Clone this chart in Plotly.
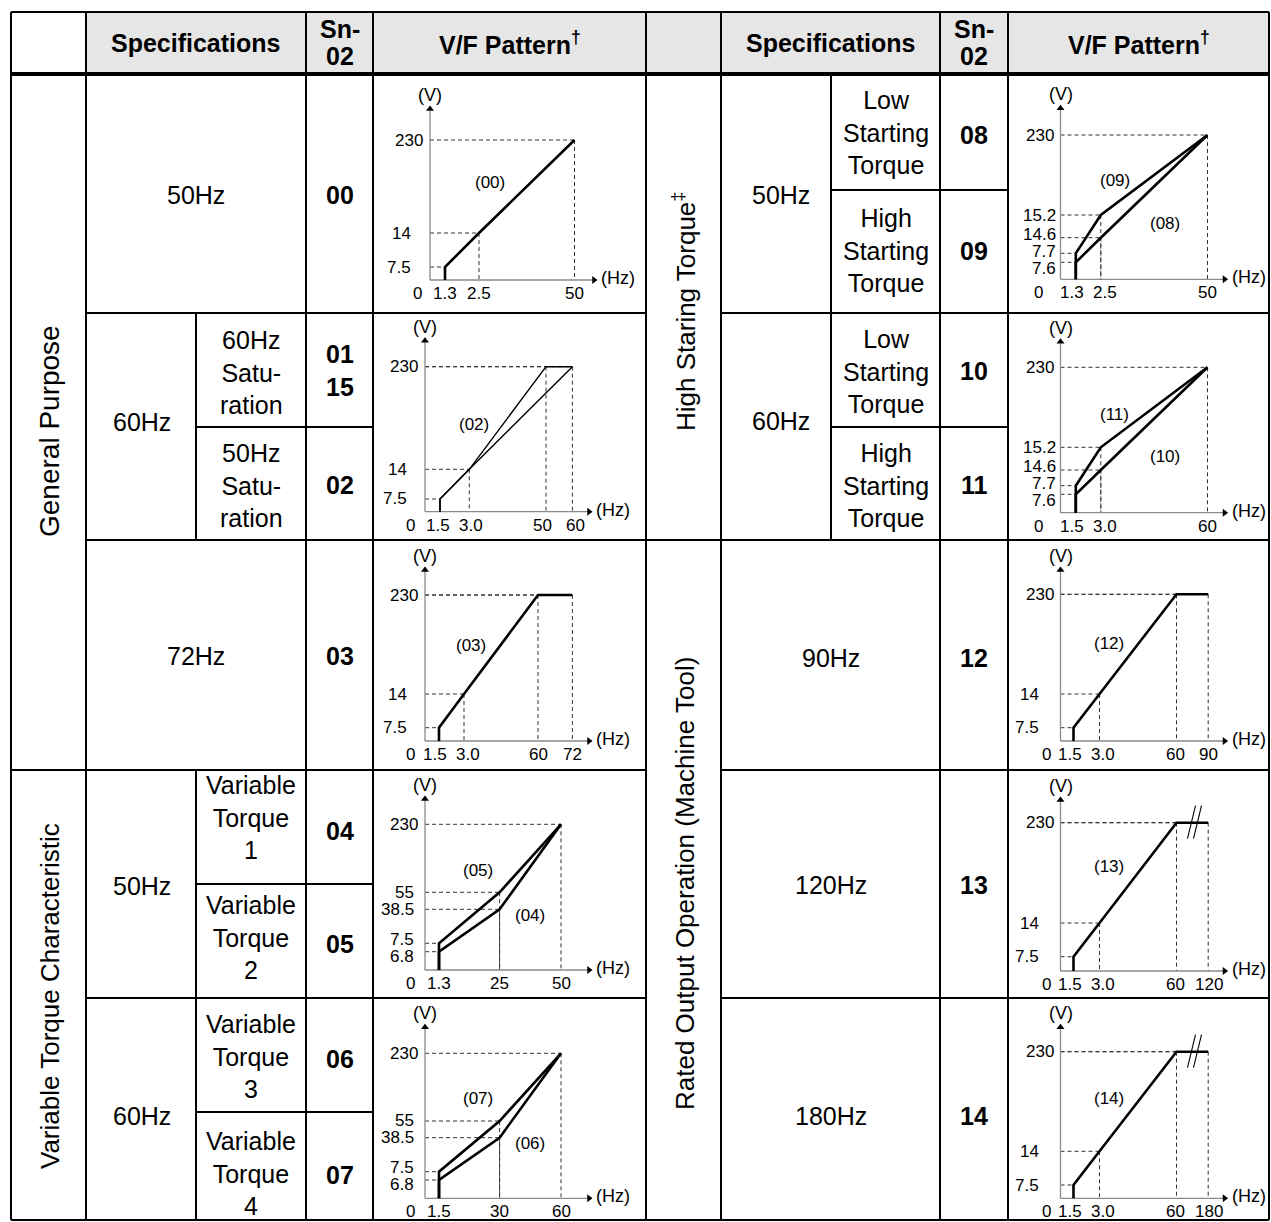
import numpy as np
import plotly.graph_objects as go

W, H = 1271, 1222
FONT = "Liberation Sans, Arial, sans-serif"

# V/F patterns: break points (Hz, V) for each Sn-02 setting
hz_00 = [1.3, 1.3, 2.5, 50]
v_00 = [0, 7.5, 14, 230]
hz_01 = [1.5, 1.5, 3.0, 60]
v_01 = [0, 7.5, 14, 230]
hz_02 = [1.5, 1.5, 3.0, 50, 60]
v_02 = [0, 7.5, 14, 230, 230]
hz_03 = [1.5, 1.5, 3.0, 60, 72]
v_03 = [0, 7.5, 14, 230, 230]
hz_04 = [1.3, 1.3, 25, 50]
v_04 = [0, 6.8, 38.5, 230]
hz_05 = [1.3, 1.3, 25, 50]
v_05 = [0, 7.5, 55, 230]
hz_06 = [1.5, 1.5, 30, 60]
v_06 = [0, 6.8, 38.5, 230]
hz_07 = [1.5, 1.5, 30, 60]
v_07 = [0, 7.5, 55, 230]
hz_08 = [1.3, 1.3, 2.5, 50]
v_08 = [0, 7.6, 14.6, 230]
hz_09 = [1.3, 1.3, 2.5, 50]
v_09 = [0, 7.7, 15.2, 230]
hz_10 = [1.5, 1.5, 3.0, 60]
v_10 = [0, 7.6, 14.6, 230]
hz_11 = [1.5, 1.5, 3.0, 60]
v_11 = [0, 7.7, 15.2, 230]
hz_12 = [1.5, 1.5, 3.0, 60, 90]
v_12 = [0, 7.5, 14, 230, 230]
hz_13 = [1.5, 1.5, 3.0, 60, 120]
v_13 = [0, 7.5, 14, 230, 230]
hz_14 = [1.5, 1.5, 3.0, 60, 180]
v_14 = [0, 7.5, 14, 230, 230]

patterns = {'00': (hz_00, v_00), '01': (hz_01, v_01), '02': (hz_02, v_02),
            '03': (hz_03, v_03), '04': (hz_04, v_04), '05': (hz_05, v_05),
            '06': (hz_06, v_06), '07': (hz_07, v_07), '08': (hz_08, v_08),
            '09': (hz_09, v_09), '10': (hz_10, v_10), '11': (hz_11, v_11),
            '12': (hz_12, v_12), '13': (hz_13, v_13), '14': (hz_14, v_14)}

# table text
group_left = ["General Purpose", "Variable Torque Characteristic"]
group_right = ["High Staring Torque<sup>‡</sup>", "Rated Output Operation (Machine Tool)"]

# schematic (non linear) axis scales of each small V/F drawing, in px from the origin
charts = [
    dict(codes=['00'], box=(373, 74, 646, 313), origin=(430, 280),
         xpos=[0, 15, 49, 144.5], ypos=[0, 13, 47, 140], lw=2.6,
         labels=[('(00)', 60, 98)], ydx=-17, x0dx=-13),
    dict(codes=['01', '02'], box=(373, 313, 646, 540), origin=(425, 511.7),
         xpos=[0, 15, 44.3, 121, 147.4], ypos=[0, 12.7, 42.4, 145], lw=1.4,
         labels=[('(02)', 48.5, 86.7)], ydx=-16, x0dx=-15),
    dict(codes=['03'], box=(373, 540, 646, 770), origin=(425, 741),
         xpos=[0, 14, 39, 113, 147.4], ypos=[0, 13.3, 47, 146], lw=2.6,
         labels=[('(03)', 46.4, 96)], ydx=-16, x0dx=-15),
    dict(codes=['04', '05'], box=(373, 770, 646, 998), origin=(425, 970),
         xpos=[0, 14, 74.6, 136], ypos=[0, 18.3, 26.7, 60.7, 77.7, 145.7], lw=2.6,
         labels=[('(05)', 52.7, 100), ('(04)', 105.3, 55)], ydx=-9, x0dx=-15),
    dict(codes=['06', '07'], box=(373, 998, 646, 1221), origin=(425, 1198.3),
         xpos=[0, 14, 74.6, 136], ypos=[0, 18.3, 26.6, 60.6, 77.3, 145], lw=2.6,
         labels=[('(07)', 52.7, 100), ('(06)', 105.3, 55)], ydx=-9, x0dx=-15),
    dict(codes=['08', '09'], box=(1008, 74, 1269, 313), origin=(1060.5, 279.3),
         xpos=[0, 15.3, 40.3, 147], ypos=[0, 17, 26, 41.6, 64.3, 144.3], lw=2.6,
         labels=[('(09)', 54.3, 99.3), ('(08)', 104.5, 56.3)], ydx=-3, x0dx=-22),
    dict(codes=['10', '11'], box=(1008, 313, 1269, 540), origin=(1060.5, 512.7),
         xpos=[0, 15.3, 40.3, 147], ypos=[0, 18.4, 27, 42.7, 65.4, 145.4], lw=2.6,
         labels=[('(11)', 54.3, 98.4), ('(10)', 104.5, 56)], ydx=-3, x0dx=-22),
    dict(codes=['12'], box=(1008, 540, 1269, 770), origin=(1060.5, 741),
         xpos=[0, 13, 39, 116, 147.7], ypos=[0, 13.3, 47, 146.7], lw=2.6,
         labels=[('(12)', 48.3, 97.7)], ydx=-20, x0dx=-14),
    dict(codes=['13'], box=(1008, 770, 1269, 998), origin=(1060.5, 971),
         xpos=[0, 13, 39, 116, 147.7], ypos=[0, 14.3, 48, 148.3], lw=2.6,
         labels=[('(13)', 48.3, 104.3)], ydx=-20, x0dx=-14, brk=True),
    dict(codes=['14'], box=(1008, 998, 1269, 1221), origin=(1060.5, 1198.3),
         xpos=[0, 13, 39, 116, 147.7], ypos=[0, 13.3, 47, 146.6], lw=2.6,
         labels=[('(14)', 48.3, 100)], ydx=-20, x0dx=-14, brk=True),
]

fig = go.Figure()
shapes = []
annotations = []


def ptext(x, y, s, size=25, angle=0):
    annotations.append(dict(x=x / W, y=1 - y / H, xref='paper', yref='paper', text=s,
                            showarrow=False, textangle=angle,
                            xanchor='center', yanchor='middle',
                            font=dict(family=FONT, size=size, color='black')))


def hline(y, x0, x1, w=2):
    shapes.append(dict(type='line', xref='paper', yref='paper', x0=x0 / W, x1=x1 / W,
                       y0=1 - y / H, y1=1 - y / H, line=dict(color='black', width=w)))


def vline(x, y0, y1, w=2):
    shapes.append(dict(type='line', xref='paper', yref='paper', x0=x / W, x1=x / W,
                       y0=1 - y0 / H, y1=1 - y1 / H, line=dict(color='black', width=w)))


def spread(pos, gap):
    # push neighbouring labels apart so they do not overlap
    p = list(pos)
    for _ in range(200):
        for i in range(len(p) - 1):
            d = p[i + 1] - p[i]
            if d < gap:
                s = (gap - d) / 2
                p[i] -= s
                p[i + 1] += s
    return p


def fmt_hz(f):
    return f"{f:.1f}" if f < 10 else f"{f:g}"


# header background
shapes.append(dict(type='rect', xref='paper', yref='paper', x0=86 / W, x1=1269 / W,
                   y0=1 - 74 / H, y1=1 - 12 / H, fillcolor='#e6e6e6', line_width=0,
                   layer='below'))

# table grid
hline(12, 11, 1269)
hline(1220, 11, 1269)
hline(74, 11, 1269, w=4)
for x in [11, 86, 306, 373, 646, 721, 940, 1008, 1269]:
    vline(x, 12, 1220)
vline(196, 313, 540)
vline(196, 770, 1220)
vline(831, 74, 540)
for y in [313, 540, 998]:
    hline(y, 86, 646)
hline(770, 11, 646)
for y in [427, 884, 1112]:
    hline(y, 196, 373)
for y in [313, 770, 998]:
    hline(y, 721, 1269)
hline(540, 646, 1269)
for y in [190, 427]:
    hline(y, 831, 1008)

# header text
for xs, xn, xv in [(196, 339.5, 509.5), (830.5, 974, 1138.5)]:
    ptext(xs, 43, "<b>Specifications</b>")
    ptext(xn, 29, "<b>Sn-</b>")
    ptext(xn, 56, "<b>02</b>")
    ptext(xv, 43, "<b>V/F Pattern<sup>†</sup></b>")

# group labels
ptext(50, 431, group_left[0], size=28, angle=-90)
ptext(50, 996, group_left[1], size=26, angle=-90)
ptext(685, 312, group_right[0], size=26, angle=-90)
ptext(685, 884, group_right[1], size=26, angle=-90)

# left specifications
ptext(196, 195, "50Hz")
ptext(339.5, 195, "<b>00</b>")
ptext(142, 422, "60Hz")
ptext(251, 372, "60Hz<br>Satu-<br>ration")
ptext(339.5, 370, "<b>01<br>15</b>")
ptext(251, 486, "50Hz<br>Satu-<br>ration")
ptext(339.5, 485, "<b>02</b>")
ptext(196, 656, "72Hz")
ptext(339.5, 656, "<b>03</b>")
ptext(142, 886, "50Hz")
ptext(251, 817, "Variable<br>Torque<br>1")
ptext(339.5, 831, "<b>04</b>")
ptext(251, 937, "Variable<br>Torque<br>2")
ptext(339.5, 944, "<b>05</b>")
ptext(142, 1116, "60Hz")
ptext(251, 1056, "Variable<br>Torque<br>3")
ptext(339.5, 1059, "<b>06</b>")
ptext(251, 1173, "Variable<br>Torque<br>4")
ptext(339.5, 1175, "<b>07</b>")

# right specifications
ptext(781, 195, "50Hz")
ptext(885.5, 133, "Low<br>Starting<br>Torque")
ptext(974, 135, "<b>08</b>")
ptext(885.5, 250, "High<br>Starting<br>Torque")
ptext(974, 251, "<b>09</b>")
ptext(781, 421, "60Hz")
ptext(885.5, 371, "Low<br>Starting<br>Torque")
ptext(974, 371, "<b>10</b>")
ptext(885.5, 485, "High<br>Starting<br>Torque")
ptext(974, 485, "<b>11</b>")
ptext(830.5, 658, "90Hz")
ptext(974, 658, "<b>12</b>")
ptext(830.5, 885, "120Hz")
ptext(974, 885, "<b>13</b>")
ptext(830.5, 1116, "180Hz")
ptext(974, 1116, "<b>14</b>")

YTOP, XEND = 174, 167
layout_axes = {}
for i, ch in enumerate(charts, 1):
    sfx = '' if i == 1 else str(i)
    xr, yr = 'x' + sfx, 'y' + sfx
    x0, y0, x1, y1 = ch['box']
    ox, oy = ch['origin']
    layout_axes['xaxis' + sfx] = dict(domain=[x0 / W, x1 / W], range=[x0 - ox, x1 - ox],
                                      visible=False, fixedrange=True, anchor=yr)
    layout_axes['yaxis' + sfx] = dict(domain=[1 - y1 / H, 1 - y0 / H], range=[oy - y1, oy - y0],
                                      visible=False, fixedrange=True, anchor=xr)
    pats = [patterns[c] for c in ch['codes']]
    xt = sorted({0} | {f for hz, v in pats for f in hz})
    yt = sorted({0} | {vv for hz, v in pats for vv in v})

    def sx(a, xt=xt, ch=ch):
        return np.interp(a, xt, ch['xpos'])

    def sy(a, yt=yt, ch=ch):
        return np.interp(a, yt, ch['ypos'])

    # dashed guide lines
    gx, gy = [], []
    pts = sorted({(f, vv) for hz, v in pats for f, vv in zip(hz, v) if vv > 0})
    for f, vv in pts:
        gx += [0, sx(f), None, sx(f), sx(f), None]
        gy += [sy(vv), sy(vv), None, sy(vv), 0, None]
    fig.add_trace(go.Scatter(x=gx, y=gy, mode='lines', xaxis=xr, yaxis=yr, hoverinfo='skip',
                             line=dict(color='#333333', width=1, dash='4px,3px')))
    # axes with arrows
    fig.add_trace(go.Scatter(x=[0, 0, None, 0, XEND], y=[YTOP, 0, None, 0, 0], mode='lines',
                             xaxis=xr, yaxis=yr, hoverinfo='skip',
                             line=dict(color='#8a8a8a', width=1.3)))
    fig.add_trace(go.Scatter(x=[0, XEND - 3], y=[YTOP - 3, 0], mode='markers',
                             xaxis=xr, yaxis=yr, hoverinfo='skip',
                             marker=dict(symbol=['triangle-up', 'triangle-right'], size=7,
                                         color='black')))
    # V/F pattern lines
    for hz, v in pats:
        fig.add_trace(go.Scatter(x=sx(hz), y=sy(v), mode='lines', xaxis=xr, yaxis=yr,
                                 hoverinfo='skip', line=dict(color='black', width=ch['lw'])))
    if ch.get('brk'):
        top = float(sy(230))
        for c in (131, 137):
            shapes.append(dict(type='line', xref=xr, yref=yr, x0=c - 4, x1=c + 4,
                               y0=top - 16, y1=top + 17, line=dict(color='black', width=1.1)))

    def atext(x, y, s, size=17, xanchor='center', xr=xr, yr=yr):
        annotations.append(dict(x=x, y=y, xref=xr, yref=yr, text=s, showarrow=False,
                                xanchor=xanchor, yanchor='middle',
                                font=dict(family=FONT, size=size, color='black')))

    atext(ch['x0dx'], -13.5, "0")
    xlabs = spread([float(sx(f)) for f in xt[1:]], 33)
    for f, xx in zip(xt[1:], xlabs):
        atext(xx, -13.5, fmt_hz(f))
    ylabs = spread([float(sy(vv)) for vv in yt[1:]], 17)
    for vv, yy in zip(yt[1:], ylabs):
        dx = -5 if vv == max(yt) else ch['ydx']
        atext(dx, yy, f"{vv:g}", xanchor='right')
    atext(0, 185, "(V)", size=18)
    atext(169, 2, "(Hz)", size=18, xanchor='left')
    for s, lx, ly in ch['labels']:
        atext(lx, ly, s)

fig.update_layout(width=W, height=H, margin=dict(l=0, r=0, t=0, b=0),
                  paper_bgcolor='white', plot_bgcolor='white', showlegend=False,
                  shapes=shapes, annotations=annotations, **layout_axes)
# drop the page's default body margin so the figure sits at the window's corner
fig.write_html("out.html", config={'displayModeBar': False},
               post_script="document.body.style.margin='0';")
